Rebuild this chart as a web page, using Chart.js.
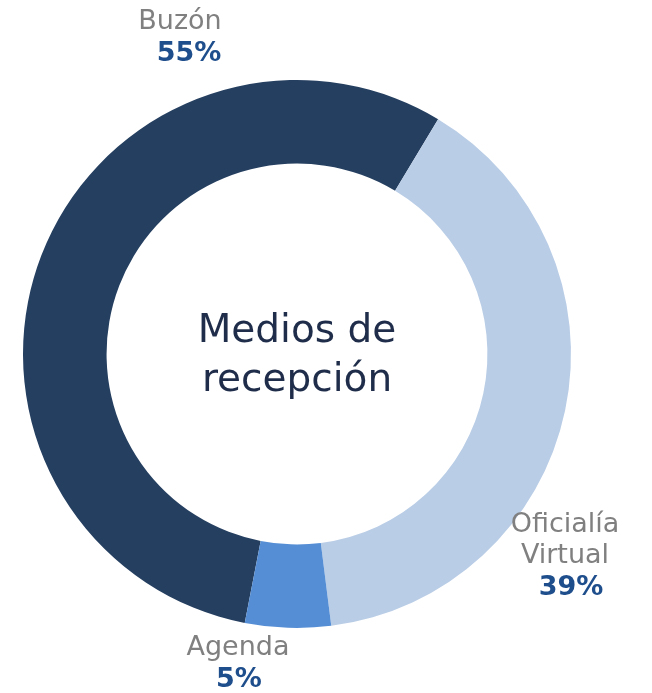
<!DOCTYPE html>
<html>
<head>
<meta charset="utf-8">
<script src="https://cdn.jsdelivr.net/npm/chart.js@4"></script>
<style>
  html, body { margin: 0; padding: 0; background: #fff; }
  #wrap { width: 652px; height: 693px; }
</style>
</head>
<body>
<div id="wrap"><canvas id="medios" width="652" height="693"></canvas></div>
<script>
var categorias = ['Buzón', 'Oficialía Virtual', 'Agenda'];
var porcentajes = [55, 39, 5];
var colores = ['#253f60', '#b9cde6', '#558ed5'];
var titulo = ['Medios de', 'recepción'];

// etiquetas movidas a mano, como en el original (desplazamiento desde el centro)
var posEtiquetas = [
    { dx: -117, dy: -332, dxPct: -108, lineas: ['Buzón'] },
    { dx: 268, dy: 171, dxPct: 274, lineas: ['Oficialía', 'Virtual'] },
    { dx: -59, dy: 294, dxPct: -58, lineas: ['Agenda'] }
];

var textos = {
    id: 'textos',
    afterDraw: function (chart) {
        var ctx = chart.ctx;
        var arc = chart.getDatasetMeta(0).data[0];
        var cx = arc.x, cy = arc.y;
        ctx.save();
        ctx.textAlign = 'center';
        ctx.textBaseline = 'middle';
        // texto central
        ctx.fillStyle = '#1f2d4a';
        ctx.font = '39px "DejaVu Sans"';
        ctx.fillText(titulo[0], cx, cy - 22);
        ctx.fillText(titulo[1], cx, cy + 27);
        // etiquetas
        posEtiquetas.forEach(function (p, i) {
            var y = cy + p.dy;
            ctx.fillStyle = '#808080';
            ctx.font = '27px "DejaVu Sans"';
            p.lineas.forEach(function (l) {
                ctx.fillText(l, cx + p.dx, y);
                y += 31;
            });
            ctx.fillStyle = '#1f4e8c';
            ctx.font = 'bold 27px "DejaVu Sans"';
            ctx.fillText(porcentajes[i] + '%', cx + p.dxPct, y + 1);
        });
        ctx.restore();
    }
};

new Chart(document.getElementById('medios'), {
    type: 'doughnut',
    data: {
        labels: categorias,
        datasets: [{
            data: porcentajes,
            backgroundColor: colores,
            borderWidth: 0
        }]
    },
    options: {
        responsive: false,
        animation: false,
        rotation: -169,
        cutout: '69.5%',
        layout: { padding: { left: 23, right: 81, top: 80, bottom: 65 } },
        plugins: {
            legend: { display: false },
            tooltip: { enabled: false }
        }
    },
    plugins: [textos]
});
</script>
</body>
</html>
